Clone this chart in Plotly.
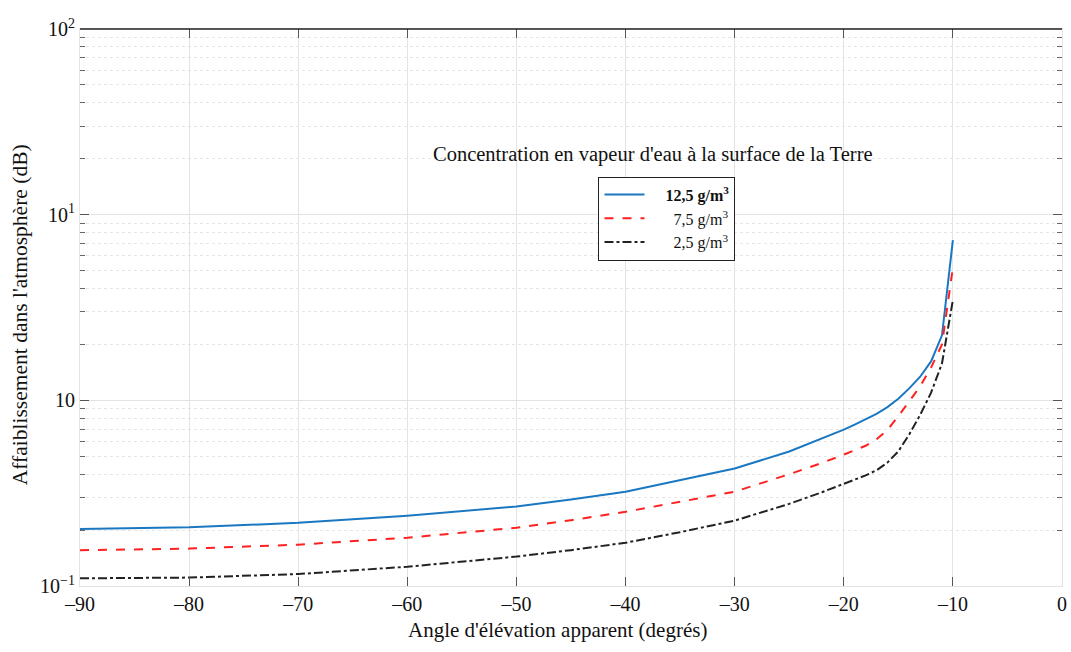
import plotly.graph_objects as go

angles = [-90, -80, -70, -60, -50, -45, -40, -35, -30, -25, -22, -20, -19, -18, -17, -16, -15, -14, -13, -12, -11, -10]
att_125 = [0.203, 0.207, 0.219, 0.239, 0.268, 0.292, 0.322, 0.37, 0.429, 0.53, 0.62, 0.695, 0.74, 0.79, 0.845, 0.92, 1.02, 1.16, 1.34, 1.62, 2.24, 7.3]
att_75 = [0.156, 0.159, 0.167, 0.182, 0.206, 0.226, 0.251, 0.283, 0.322, 0.40, 0.46, 0.51, 0.537, 0.569, 0.617, 0.692, 0.822, 0.989, 1.19, 1.50, 2.0, 5.2]
att_25 = [0.110, 0.111, 0.116, 0.127, 0.144, 0.156, 0.171, 0.195, 0.225, 0.277, 0.32, 0.356, 0.374, 0.394, 0.420, 0.462, 0.531, 0.655, 0.835, 1.10, 1.58, 3.47]

x_ticks = [-90, -80, -70, -60, -50, -40, -30, -20, -10, 0]
x_labels = ["–90", "–80", "–70", "–60", "–50", "–40", "–30", "–20", "–10", "0"]
y_ticks = [0.1, 1, 10, 100]
y_labels = ["10<sup>−1</sup>", "10", "10<sup>1</sup>", "10<sup>2</sup>"]

x_title = "Angle d'élévation apparent (degrés)"
y_title = "Affaiblissement dans l'atmosphère (dB)"
chart_note = "Concentration en vapeur d'eau à la surface de la Terre"

FONT = "Liberation Serif"

fig = go.Figure()
fig.add_trace(go.Scatter(x=angles, y=att_125, mode="lines", name="&nbsp;&nbsp;&nbsp;&nbsp;<b>12,5 g/m<sup>3</sup></b>",
                         line=dict(color="#1a78c2", width=2)))
fig.add_trace(go.Scatter(x=angles, y=att_75, mode="lines", name="&nbsp;&nbsp;&nbsp;&nbsp;&nbsp;&nbsp;7,5 g/m<sup>3</sup>",
                         line=dict(color="#ff2020", width=2, dash="dash")))
fig.add_trace(go.Scatter(x=angles, y=att_25, mode="lines", name="&nbsp;&nbsp;&nbsp;&nbsp;&nbsp;&nbsp;2,5 g/m<sup>3</sup>",
                         line=dict(color="#222222", width=2, dash="dashdot")))

fig.update_layout(
    width=1071, height=652,
    margin=dict(l=80, r=9, t=29, b=66),
    paper_bgcolor="white", plot_bgcolor="white",
    font=dict(family=FONT, size=19, color="#111"),
    showlegend=True,
    legend=dict(x=0.528, y=0.735, xanchor="left", yanchor="top",
                bgcolor="white", bordercolor="#222", borderwidth=1,
                font=dict(family=FONT, size=16, color="#111"),
                tracegroupgap=0, itemwidth=40),
    xaxis=dict(range=[-90, 0], tickvals=x_ticks, ticktext=x_labels, automargin=False,
               ticklabeloverflow="allow",
               showgrid=True, gridcolor="#e3e3e3", gridwidth=1,
               ticks="inside", ticklen=9, tickcolor="#555", mirror="allticks",
               showline=True, linecolor="#e3e3e3", linewidth=1,
               zeroline=False, tickfont=dict(family=FONT, size=20)),
    yaxis=dict(type="log", range=[-1, 2], tickvals=y_ticks, ticktext=y_labels, automargin=False,
               ticklabeloverflow="allow",
               showgrid=True, gridcolor="#e3e3e3", gridwidth=1,
               ticks="inside", ticklen=9, tickcolor="#555", mirror="allticks",
               showline=True, linecolor="#e3e3e3", linewidth=1,
               zeroline=False, tickfont=dict(family=FONT, size=20),
               minor=dict(showgrid=True, gridcolor="#e6e6e6", griddash="dot",
                          ticks="inside", ticklen=5, tickcolor="#666",
                          tickvals=[v * d for d in [0.1, 1, 10] for v in range(2, 10)])),
    shapes=[dict(type="line", xref="paper", yref="paper", x0=0, x1=1, y0=1, y1=1,
                 line=dict(color="#222", width=1.5))],
    annotations=[
        dict(text=chart_note, xref="paper", yref="paper", x=0.584, y=0.774,
             xanchor="center", yanchor="middle", showarrow=False,
             font=dict(family=FONT, size=20.5, color="#111")),
        dict(text=x_title, xref="paper", yref="paper", x=0.486, y=-0.079,
             xanchor="center", yanchor="middle", showarrow=False,
             font=dict(family=FONT, size=21, color="#111")),
        dict(text=y_title, xref="paper", yref="paper", x=-0.0611, y=0.488, textangle=-90,
             xanchor="center", yanchor="middle", showarrow=False,
             font=dict(family=FONT, size=21.5, color="#111")),
    ],
)

fig.write_html("out.html", config={"displayModeBar": False},
               post_script="document.body.style.margin='0';document.documentElement.style.overflow='hidden';")
